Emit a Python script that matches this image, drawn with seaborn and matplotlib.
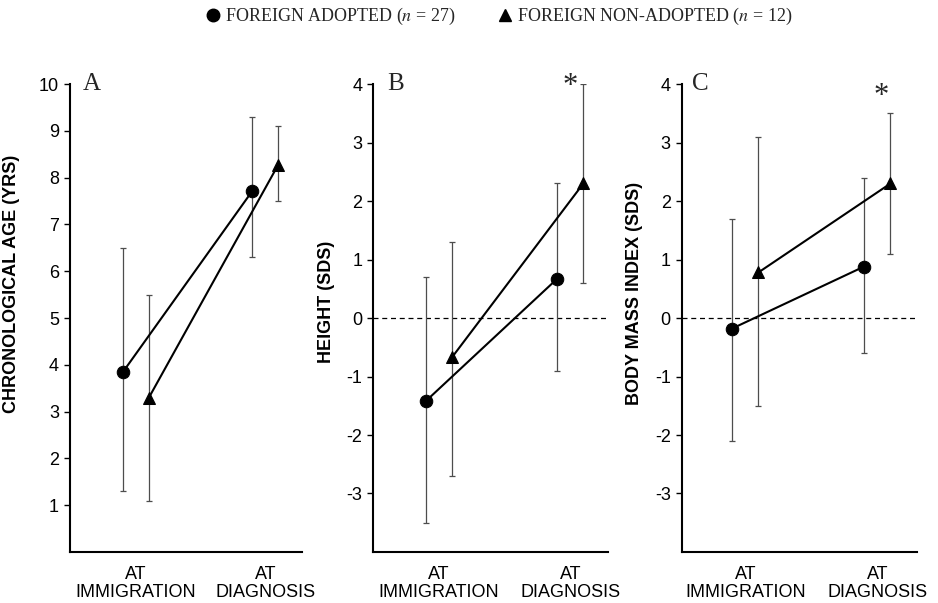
import matplotlib
matplotlib.use("Agg")
import matplotlib.pyplot as plt
from matplotlib.lines import Line2D
import numpy as np
import pandas as pd
import seaborn as sns

# categories on the x axis
stages = ["AT\nIMMIGRATION", "AT\nDIAGNOSIS"]
groups = ["FOREIGN ADOPTED ($n$ = 27)", "FOREIGN NON-ADOPTED ($n$ = 12)"]

# panel A: chronological age (yrs) - mean, upper and lower whisker
age_adopted = [3.85, 7.72]
age_adopted_hi = [6.5, 9.3]
age_adopted_lo = [1.3, 6.3]
age_nonadopted = [3.3, 8.28]
age_nonadopted_hi = [5.5, 9.1]
age_nonadopted_lo = [1.1, 7.5]

# panel B: height (SDS)
height_adopted = [-1.42, 0.67]
height_adopted_hi = [0.7, 2.3]
height_adopted_lo = [-3.5, -0.9]
height_nonadopted = [-0.67, 2.3]
height_nonadopted_hi = [1.3, 4.0]
height_nonadopted_lo = [-2.7, 0.6]

# panel C: body mass index (SDS)
bmi_adopted = [-0.18, 0.88]
bmi_adopted_hi = [1.7, 2.4]
bmi_adopted_lo = [-2.1, -0.6]
bmi_nonadopted = [0.78, 2.3]
bmi_nonadopted_hi = [3.1, 3.5]
bmi_nonadopted_lo = [-1.5, 1.1]

sns.set_style("ticks")
plt.rcParams['font.family'] = ['Liberation Sans', 'DejaVu Sans']
plt.rcParams['mathtext.fontset'] = 'stix'
plt.rcParams['axes.unicode_minus'] = False

fig = plt.figure(figsize=(9.38, 6.03), dpi=100)

panels = [
    dict(letter="A", ylabel="CHRONOLOGICAL AGE (YRS)", ylim=(0, 10), yticks=range(1, 11),
         rect=[0.0746, 0.0846, 0.247, 0.776], xlim=(-0.51, 1.28), zero=False,
         adopted=(age_adopted, age_adopted_lo, age_adopted_hi),
         nonadopted=(age_nonadopted, age_nonadopted_lo, age_nonadopted_hi),
         label_xy=(-0.215, 0.573), letter_x=0.056, star=None),
    dict(letter="B", ylabel="HEIGHT (SDS)", ylim=(-4, 4), yticks=range(-3, 5),
         rect=[0.398, 0.0846, 0.2505, 0.776], xlim=(-0.5, 1.29), zero=True,
         adopted=(height_adopted, height_adopted_lo, height_adopted_hi),
         nonadopted=(height_nonadopted, height_nonadopted_lo, height_nonadopted_hi),
         label_xy=(-0.162, 0.534), letter_x=0.06, star=(1.0, 3.83)),
    dict(letter="C", ylabel="BODY MASS INDEX (SDS)", ylim=(-4, 4), yticks=range(-3, 5),
         rect=[0.727, 0.0846, 0.2505, 0.776], xlim=(-0.48, 1.30), zero=True,
         adopted=(bmi_adopted, bmi_adopted_lo, bmi_adopted_hi),
         nonadopted=(bmi_nonadopted, bmi_nonadopted_lo, bmi_nonadopted_hi),
         label_xy=(-0.166, 0.553), letter_x=0.043, star=(1.03, 3.66)),
]

offsets = {"adopted": -0.1, "nonadopted": 0.1}
markers = {"adopted": "o", "nonadopted": "^"}

for p in panels:
    ax = fig.add_axes(p["rect"])
    if p["zero"]:
        ax.axhline(0, color="black", lw=0.9, ls=(0, (4, 3)), zorder=1)
    for key in ["adopted", "nonadopted"]:
        mean, lo, hi = p[key]
        x = np.arange(len(stages)) + offsets[key]
        df = pd.DataFrame({"x": x, "y": mean})
        ax.errorbar(x, mean,
                    yerr=[np.array(mean) - np.array(lo), np.array(hi) - np.array(mean)],
                    fmt="none", ecolor="0.3", elinewidth=0.9, capsize=2.5,
                    capthick=0.9, zorder=2)
        sns.lineplot(data=df, x="x", y="y", ax=ax, color="black", lw=1.5,
                     marker=markers[key], markersize=9, markeredgecolor="black",
                     markerfacecolor="black", zorder=3)
    ax.set_xlim(*p["xlim"])
    ax.set_ylim(*p["ylim"])
    ax.set_yticks(list(p["yticks"]))
    ax.set_xticks([0, 1])
    ax.set_xticklabels(stages, fontsize=13, linespacing=1.1)
    ax.tick_params(axis="x", length=0, pad=10, colors="black")
    ax.tick_params(axis="y", length=4, width=1, pad=4, labelsize=13, colors="black")
    ax.set_xlabel("")
    ax.set_ylabel(p["ylabel"], fontsize=13, fontweight="bold", color="black")
    ax.yaxis.set_label_coords(*p["label_xy"])
    sns.despine(ax=ax)
    for s in ["left", "bottom"]:
        ax.spines[s].set_linewidth(1.5)
        ax.spines[s].set_color("black")
    ax.text(p["letter_x"], 0.987, p["letter"], transform=ax.transAxes,
            fontsize=18, family="Liberation Serif", va="baseline", ha="left")
    if p["star"] is not None:
        ax.text(p["star"][0], p["star"][1], "*", fontsize=22,
                family="Liberation Serif", ha="center", va="baseline")

handles = [
    Line2D([], [], ls="none", marker="o", color="black", markersize=9),
    Line2D([], [], ls="none", marker="^", color="black", markersize=9),
]
fig.legend(handles, groups, loc="center", bbox_to_anchor=(0.532, 0.972), ncol=2,
           frameon=False, handlelength=0.8, handletextpad=0.3, columnspacing=2.3,
           prop={"family": "Liberation Serif", "size": 13})

fig.savefig("out.png", dpi=100)
